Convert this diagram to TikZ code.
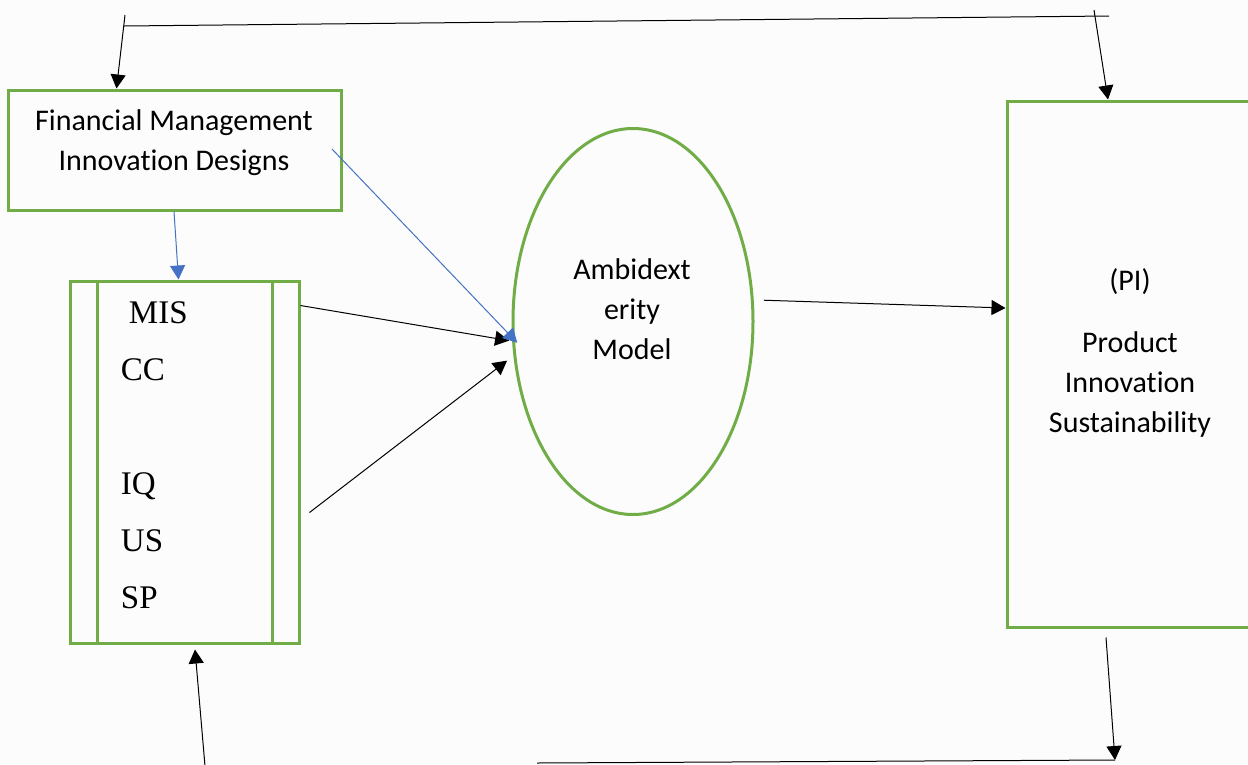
\documentclass[tikz,border=0pt]{standalone}
\usepackage{fontspec}
\setmainfont{Carlito}[Ligatures={NoCommon,NoRare}]
\newfontfamily\timesfont{Liberation Serif}
\usetikzlibrary{arrows.meta,shapes.geometric}

\definecolor{boxgreen}{RGB}{112,173,71}
\definecolor{linkblue}{RGB}{68,114,196}
\definecolor{paper}{RGB}{252,252,252}

\tikzset{
  greenbox/.style={draw=boxgreen,line width=3pt,inner sep=0pt},
  flow/.style={draw=black,line width=1pt,-{Triangle[length=14pt,width=15pt]}},
  blueflow/.style={draw=linkblue,line width=1pt,-{Triangle[length=14pt,width=15pt]}},
  label/.style={inner sep=0.75pt,font=\fontsize{30}{36}\selectfont},
  code/.style={inner sep=0.75pt,font=\timesfont\fontsize{33}{40}\selectfont}
}

\begin{document}
\begin{tikzpicture}[x=1pt,y=1pt,yscale=-1,xscale=1]
%page
\fill[paper] (0,0) rectangle (1248,764);
\useasboundingbox (0,0) rectangle (1248,764);

%Shape: Rectangle [fmid]
\node [greenbox,minimum width=333pt,minimum height=120pt] (fmid) at (174.5,150) {};
%Shape: Rectangle [mis]
\node [greenbox,minimum width=229pt,minimum height=362pt] (mis) at (184.5,462) {};
%Straight Lines
\draw [boxgreen,line width=2.5pt] ([xshift=29pt]mis.north west) -- ([xshift=29pt]mis.south west) ;
%Straight Lines
\draw [boxgreen,line width=2.5pt] ([xshift=-28pt]mis.north east) -- ([xshift=-28pt]mis.south east) ;
%Shape: Ellipse [amb]
\node [greenbox,ellipse,minimum width=240pt,minimum height=386pt] (amb) at (633,321.5) {};
%Shape: Rectangle [pi]
\node [greenbox,minimum width=253pt,minimum height=526pt] (pi) at (1133.5,364) {};

% Text Node
\draw (174,130) node [anchor=base][label] (fmid1) {Financial Management};
% Text Node
\draw (174,170) node [anchor=base][label] (fmid2) {Innovation Designs};
% Text Node
\draw (128,323) node [anchor=base west][code] (tmis) {MIS};
% Text Node
\draw (120,380) node [anchor=base west][code] (tcc) {CC};
% Text Node
\draw (120,494) node [anchor=base west][code] (tiq) {IQ};
% Text Node
\draw (120,551) node [anchor=base west][code] (tus) {US};
% Text Node
\draw (120,608) node [anchor=base west][code] (tsp) {SP};
% Text Node
\draw (632,279) node [anchor=base][label] (amb1) {Ambidext};
% Text Node
\draw (632,319) node [anchor=base][label] (amb2) {erity};
% Text Node
\draw (632,359) node [anchor=base][label] (amb3) {Model};
% Text Node
\draw (1130,290) node [anchor=base][label] (pi0) {(PI)};
% Text Node
\draw (1130,352) node [anchor=base][label] (pi1) {Product};
% Text Node
\draw (1130,392) node [anchor=base][label] (pi2) {Innovation};
% Text Node
\draw (1130,432) node [anchor=base][label] (pi3) {Sustainability};

%Loop ends
\coordinate (topl) at (125,15);
\coordinate (topa) at (124,26);
\coordinate (topb) at (1109,16);
\coordinate (topr) at (1094,10);
\coordinate (botr) at (1115,760);
\coordinate (botm) at (537,763);
\coordinate (botl) at (205,766);
\coordinate (fmidin) at (332,149);

%Straight Lines
\draw [line width=1pt] (topa) -- (topb) ;
%Straight Lines
\draw [flow] (topl) -- ([xshift=-58pt]fmid.north) ;
%Straight Lines
\draw [flow] (topr) -- ([xshift=-25.5pt]pi.north) ;
%Straight Lines
\draw [blueflow] ([xshift=-0.5pt]fmid.south) -- ([xshift=-6pt]mis.north) ;
%Straight Lines
\draw [flow] ([yshift=26pt]mis.north east) -- ([xshift=-3pt]amb.189) ;
%Straight Lines
\draw [flow,shorten >=8pt] ([xshift=9pt,yshift=50.5pt]mis.east) -- (amb.196) ;
%Straight Lines
\draw [blueflow] (fmidin) -- ([xshift=5pt]amb.190) ;
%Straight Lines
\draw [flow] ([xshift=10pt]amb.10) -- ([yshift=-56pt]pi.west) ;
%Straight Lines
\draw [flow] ([xshift=-27.5pt,yshift=9pt]pi.south) -- (botr) ;
%Straight Lines
\draw [line width=1pt] (botr) -- (botm) ;
%Straight Lines
\draw [flow] (botl) -- ([xshift=10.5pt,yshift=5pt]mis.south) ;

\end{tikzpicture}
\end{document}
